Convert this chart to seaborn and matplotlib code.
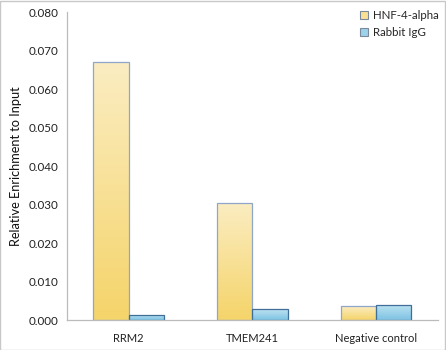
import numpy as np
import pandas as pd
import matplotlib
matplotlib.use("Agg")
import matplotlib.pyplot as plt
import seaborn as sns
from matplotlib.colors import LinearSegmentedColormap
from matplotlib.patches import Rectangle

categories = ["RRM2", "TMEM241", "Negative control"]
series = ["HNF-4-alpha", "Rabbit IgG"]
hnf_values = [0.067, 0.0305, 0.0036]
igg_values = [0.0013, 0.0028, 0.0040]
yticks = [0.0, 0.01, 0.02, 0.03, 0.04, 0.05, 0.06, 0.07, 0.08]

df = pd.DataFrame({
    "Category": categories * 2,
    "Series": [series[0]] * 3 + [series[1]] * 3,
    "Value": hnf_values + igg_values,
})

sns.set_style("white")
plt.rcParams["font.family"] = ["Lato", "DejaVu Sans"]

fig = plt.figure(figsize=(4.46, 3.5), dpi=100)
ax = fig.add_axes([0.150, 0.0857, 0.832, 0.88])

top_cols = {series[0]: "#FBEDC2", series[1]: "#BFE3F2"}
bot_cols = {series[0]: "#F5D46A", series[1]: "#7DC3E3"}
mid_cols = {series[0]: "#F8E195", series[1]: "#9DD3EA"}
edge_cols = {series[0]: "#8FA6C9", series[1]: "#3F6E98"}

sns.barplot(data=df, x="Category", y="Value", hue="Series", hue_order=series,
            order=categories, ax=ax, width=0.57, gap=0, legend=False,
            palette=[bot_cols[s] for s in series], errorbar=None)

# gradient fill clipped to each bar (per-bar gradient)
for cont, s in zip(ax.containers, series):
    cmap = LinearSegmentedColormap.from_list("g", [bot_cols[s], top_cols[s]])
    for p in cont.patches:
        x0, y0 = p.get_x(), p.get_y()
        w, h = p.get_width(), p.get_height()
        grad = np.linspace(0, 1, 256).reshape(-1, 1)
        im = ax.imshow(grad, extent=[x0, x0 + w, y0, y0 + h],
                       origin="lower", aspect="auto", cmap=cmap, zorder=p.get_zorder())
        im.set_clip_path(p)
        p.set_facecolor("none")
        p.set_edgecolor(edge_cols[s])
        p.set_linewidth(0.9)
        p.set_zorder(p.get_zorder() + 0.5)

ax.set_xlim(-0.5, 2.5)
ax.set_ylim(0, 0.08)
ax.set_yticks(yticks)
ax.set_yticklabels([f"{v:.3f}" for v in yticks], fontsize=8.4, color="#222222")
ax.set_xticks(range(len(categories)))
ax.set_xticklabels(categories, fontsize=8, color="#222222")
ax.set_xticks([-0.5, 0.5, 1.5, 2.5], minor=True)
ax.tick_params(axis="x", which="major", length=0, pad=9)
ax.tick_params(axis="x", which="minor", length=5, color="#BBBBBB", width=0.8, direction="out")
ax.tick_params(axis="y", length=4, color="#BBBBBB", width=0.8, direction="out", pad=2)
ax.set_xlabel("")
ax.set_ylabel("Relative Enrichment to Input", fontsize=9.2, color="#111111", labelpad=5)

for side in ["top", "right"]:
    ax.spines[side].set_visible(False)
for side in ["left", "bottom"]:
    ax.spines[side].set_color("#BBBBBB")
    ax.spines[side].set_linewidth(0.9)

handles = [Rectangle((0, 0), 1, 1, facecolor=mid_cols[s], edgecolor="#7A8A9A", linewidth=0.8)
           for s in series]
leg = ax.legend(handles, series, loc="upper right", bbox_to_anchor=(1.03, 1.04), frameon=False,
                fontsize=8.3, handlelength=0.75, handleheight=0.75, handletextpad=0.4,
                labelspacing=0.5)

fig.patches.append(Rectangle((0.001, 0.001), 0.997, 0.997, transform=fig.transFigure,
                             fill=False, edgecolor="#C8C8C8", linewidth=1))

fig.savefig("out.png", dpi=100)
